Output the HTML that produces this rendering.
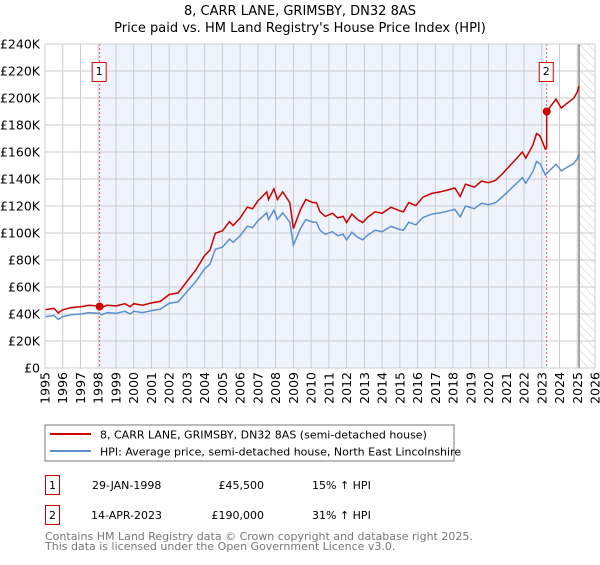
<!DOCTYPE html>
<html><head><meta charset="utf-8"><style>
body{margin:0;background:#fff;font-family:"Liberation Sans","DejaVu Sans",sans-serif;}
svg text{font-family:"DejaVu Sans","Liberation Sans",sans-serif;}
</style></head><body>
<svg id="c" width="600" height="560" viewBox="0 0 600 560" xmlns="http://www.w3.org/2000/svg">
<defs><pattern id="hatch" width="6" height="6" patternUnits="userSpaceOnUse" patternTransform="rotate(-45)"><line x1="0" y1="0" x2="0" y2="6" stroke="#ccc" stroke-width="1"/></pattern></defs>
<text x="300" y="15" text-anchor="middle" font-size="13">8, CARR LANE, GRIMSBY, DN32 8AS</text>
<text x="300" y="32" text-anchor="middle" font-size="13">Price paid vs. HM Land Registry's House Price Index (HPI)</text>
<g id="plot"></g>
<rect x="45" y="425" width="409" height="36" fill="#fff" stroke="#777"/>
<line x1="50" y1="434" x2="91" y2="434" stroke="#cc0000" stroke-width="2"/>
<text x="100" y="438.5" font-size="11">8, CARR LANE, GRIMSBY, DN32 8AS (semi-detached house)</text>
<line x1="50" y1="451" x2="91" y2="451" stroke="#5b8fd0" stroke-width="2"/>
<text x="100" y="455.5" font-size="11">HPI: Average price, semi-detached house, North East Lincolnshire</text>
<g>
<rect x="45.5" y="475.5" width="14" height="19" fill="#fff" stroke="#cc0000"/>
<text x="52.5" y="489" text-anchor="middle" font-size="11">1</text>
<text x="92" y="489" font-size="11">29-JAN-1998</text>
<text x="264" y="489" text-anchor="end" font-size="11">£45,500</text>
<text x="312" y="489" font-size="11">15% ↑ HPI</text></g>
<g>
<rect x="45.5" y="505.5" width="14" height="19" fill="#fff" stroke="#cc0000"/>
<text x="52.5" y="519" text-anchor="middle" font-size="11">2</text>
<text x="91" y="519" font-size="11">14-APR-2023</text>
<text x="264" y="519" text-anchor="end" font-size="11">£190,000</text>
<text x="312" y="519" font-size="11">31% ↑ HPI</text></g>
<text x="45" y="540" font-size="11" fill="#777">Contains HM Land Registry data © Crown copyright and database right 2025.</text>
<text x="45" y="550" font-size="11" fill="#777">This data is licensed under the Open Government Licence v3.0.</text>
</svg>
<script>
const hpiYears=[1995,1995.5,1995.75,1996,1996.5,1997,1997.5,1998,1998.2,1998.5,1999,1999.5,1999.8,2000,2000.5,2001,2001.5,2002,2002.5,2003,2003.5,2004,2004.3,2004.6,2005,2005.4,2005.6,2006,2006.4,2006.7,2007,2007.5,2007.6,2007.9,2008.1,2008.4,2008.8,2009,2009.4,2009.7,2010.1,2010.3,2010.5,2010.8,2011.2,2011.5,2011.8,2012,2012.3,2012.6,2012.9,2013.2,2013.6,2014,2014.5,2014.9,2015.2,2015.5,2015.9,2016.3,2016.8,2017.3,2017.8,2018.1,2018.4,2018.7,2019.2,2019.6,2020,2020.4,2020.8,2021.2,2021.6,2021.9,2022.1,2022.5,2022.7,2022.9,2023.2,2023.5,2023.8,2024.1,2024.4,2024.8,2025,2025.1];
const hpiValues=[38,39,36,38,39.5,40,41,40.5,39.5,41,40.5,42,40,42,41,42.5,43.5,48,49,56.5,64,73.5,77,88,89.5,95.5,93,98,105,104,109,115,110,117,110,115,108,91,103.4,110,108,108,102,99,101,98,99,95,100.5,97,95,98.5,102,101,105,103,102,108,106,111.5,114,115,116.5,117.5,112,120,118,122,121,122.5,127,132,137,141,137,145.5,153,151.5,143,147,151,146,148.5,151.5,155,158.5];
const saleYears=[2023.28-25.2,2023.28];
const saleValues=[45.5,190];
const saleLabels=["1","2"];
const yTicks=[0,20,40,60,80,100,120,140,160,180,200,220,240];
const yTickLabels=["£0","£20K","£40K","£60K","£80K","£100K","£120K","£140K","£160K","£180K","£200K","£220K","£240K"];
const xTicks=[1995,1996,1997,1998,1999,2000,2001,2002,2003,2004,2005,2006,2007,2008,2009,2010,2011,2012,2013,2014,2015,2016,2017,2018,2019,2020,2021,2022,2023,2024,2025,2026];
const X0=45,X1=595,Y0=368,Y1=44,XMIN=1995,XMAX=2026,YMAX=240;
const xs=y=>X0+(y-XMIN)/(XMAX-XMIN)*(X1-X0);
const ys=v=>Y0-v/YMAX*(Y0-Y1);
const NS="http://www.w3.org/2000/svg",g=document.getElementById('plot');
function mk(t,a,p){const e=document.createElementNS(NS,t);for(const k in a)e.setAttribute(k,a[k]);(p||g).appendChild(e);return e;}
function hpiAt(t){for(let i=1;i<hpiYears.length;i++){if(t<=hpiYears[i]){const f=(t-hpiYears[i-1])/(hpiYears[i]-hpiYears[i-1]);return hpiValues[i-1]+f*(hpiValues[i]-hpiValues[i-1]);}}return hpiValues[hpiValues.length-1];}
let e=mk('rect',{x:xs(saleYears[0]),y:Y1,width:xs(saleYears[1])-xs(saleYears[0]),height:Y0-Y1,fill:'#eef3fc'});


e=mk('rect',{x:xs(2025.1),y:Y1,width:X1-xs(2025.1),height:Y0-Y1,fill:'url(#hatch)'});


xTicks.forEach(t=>{const l=mk('line',{x1:xs(t),x2:xs(t),y1:Y1,y2:Y0,stroke:'#ccc'});


const tx=mk('text',{x:0,y:0,'font-size':12.5,'text-anchor':'end',transform:`translate(${xs(t)+4.5},372) rotate(-90)`});tx.textContent=t;

});
yTicks.forEach((t,i)=>{const l=mk('line',{x1:X0,x2:X1,y1:ys(t),y2:ys(t),stroke:'#ccc'});


const tx=mk('text',{x:40,y:ys(t)+4.5,'font-size':12.5,'text-anchor':'end'});tx.textContent=yTickLabels[i];

});
e=mk('line',{x1:xs(2025.1),x2:xs(2025.1),y1:Y1,y2:Y0,stroke:'#888','stroke-width':1.5});


saleYears.forEach((t,i)=>{const l=mk('line',{x1:xs(t),x2:xs(t),y1:Y1,y2:Y0,stroke:'#e55','stroke-dasharray':'2,2'});


const r=mk('rect',{x:xs(t)-7.5,y:62.5,width:14,height:19,fill:'#fff',stroke:'#cc0000'});


const tx=mk('text',{x:xs(t)-0.5,y:75,'font-size':11,'text-anchor':'middle'});tx.textContent=saleLabels[i];

});
let d=hpiYears.map((t,i)=>(i?'L':'M')+xs(t).toFixed(1)+','+ys(hpiValues[i]).toFixed(1)).join('');
e=mk('path',{d:d,fill:'none',stroke:'#5b8fd0','stroke-width':1.5});


const r1=saleValues[0]/hpiAt(saleYears[0]),r2=saleValues[1]/hpiAt(saleYears[1]);
let pts=[];
hpiYears.forEach((t,i)=>{if(t<saleYears[1])pts.push([t,hpiValues[i]*r1]);});
pts.push([saleYears[1],hpiAt(saleYears[1])*r1]);pts.push([saleYears[1],saleValues[1]]);
hpiYears.forEach((t,i)=>{if(t>saleYears[1])pts.push([t,hpiValues[i]*r2]);});
d=pts.map((p,i)=>(i?'L':'M')+xs(p[0]).toFixed(1)+','+ys(p[1]).toFixed(1)).join('');
e=mk('path',{d:d,fill:'none',stroke:'#cc0000','stroke-width':1.5});


saleYears.forEach((t,i)=>{const c=mk('circle',{cx:xs(t),cy:ys(saleValues[i]),r:4,fill:'#cc0000'});

});
e=mk('rect',{x:X0,y:Y1,width:X1-X0,height:Y0-Y1,fill:'none',stroke:'#ccc'});


</script>
</body></html>
